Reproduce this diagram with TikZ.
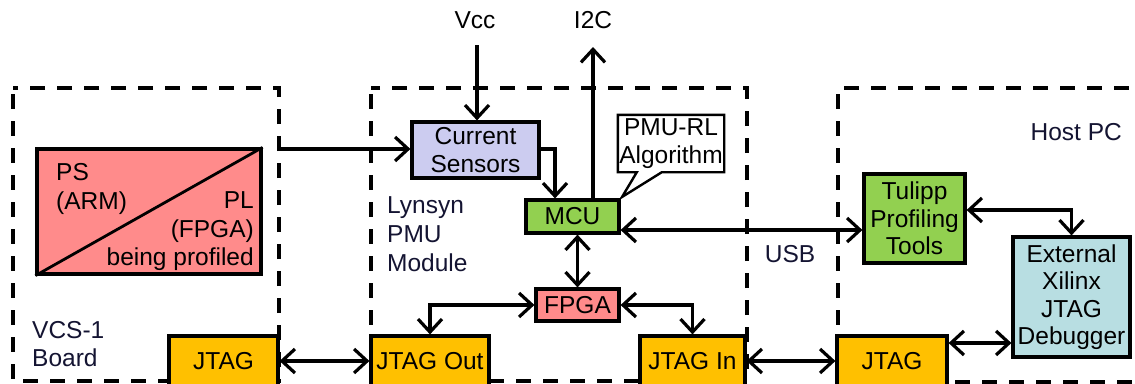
\documentclass[tikz,border=0pt]{standalone}
\usepackage{fontspec}
\setmainfont{Liberation Sans}
\usetikzlibrary{arrows.meta,calc}
\definecolor{salmon}{RGB}{255,139,139}
\definecolor{lav}{RGB}{204,204,240}
\definecolor{grn}{RGB}{146,208,80}
\definecolor{gold}{RGB}{255,192,0}
\definecolor{lblue}{RGB}{184,222,226}
\definecolor{lbl}{RGB}{20,20,50}
\tikzset{mytip/.tip={Straight Barb[length=13pt,width=24pt,line width=3.2pt]}}
\begin{document}
\begin{tikzpicture}[x=1pt,y=-1pt,
  every node/.style={font=\fontsize{24.5}{28.5}\selectfont},
  blk/.style={draw=black,line width=3.2pt,inner sep=0pt,align=center},
  group/.style={draw=black,line width=3.6pt,dash pattern=on 15pt off 12pt,dash phase=-6pt},
  conn/.style={line width=3.2pt},
  arr/.style={conn,-{mytip}},
  darr/.style={conn,{mytip}-{mytip}},
  lab/.style={text=lbl,inner sep=0pt,align=left}]
\useasboundingbox (0,0) rectangle (1135,383);
\clip (0,0) rectangle (1135,383);
% group boxes
\draw[group] (13,88) rectangle (279,381);
\draw[group] (371,88) rectangle (747,381);
\draw[group] (838,88) -- (1150,88) (838,88) -- (838,382) -- (1150,382);
% PS/PL block
\node[blk,fill=salmon,minimum width=224pt,minimum height=125pt] (pspl) at (149,211.5) {};
\draw[line width=2.8pt] (pspl.south west) -- (pspl.north east);
\node[lab,text=black,anchor=base west,align=left] (ps) at (56,180) {PS};
\node[lab,text=black,anchor=base west] (arm) at (56,209) {(ARM)};
\node[lab,text=black,anchor=base east] (pl) at (254,208) {PL};
\node[lab,text=black,anchor=base east] (fpgal) at (254,237) {(FPGA)};
\node[lab,text=black,anchor=base east] (bp) at (254,265) {being profiled};
% labels
\node[lab,anchor=base west] (vcs) at (32,338) {VCS-1};
\node[lab,anchor=base west] (board) at (32,366) {Board};
\node[lab,anchor=base west] (lyn) at (387,213) {Lynsyn};
\node[lab,anchor=base west] (pmu) at (387,242) {PMU};
\node[lab,anchor=base west] (mod) at (387,271) {Module};
\node[lab,anchor=base] (usbl) at (790,262) {USB};
\node[lab,anchor=base east] (host) at (1122,140) {Host PC};
\node[lab,text=black,anchor=base] (vcc) at (475,28) {Vcc};
\node[lab,text=black,anchor=base] (i2c) at (593,28) {I2C};
% blocks
\node[blk,fill=lav,minimum width=127pt,minimum height=56pt] (cs) at (475.5,150) {Current\\[-1pt]Sensors};
\node[blk,fill=grn,minimum width=93pt,minimum height=33pt] (mcu) at (572.5,216.5) {MCU};
\node[blk,fill=salmon,minimum width=83pt,minimum height=32pt] (fpga) at (577.5,305) {FPGA};
\node[blk,fill=gold,minimum width=109pt,minimum height=50pt] (jl) at (223.5,361) {JTAG};
\node[blk,fill=gold,minimum width=118pt,minimum height=50pt] (jo) at (430,361) {JTAG Out};
\node[blk,fill=gold,minimum width=105pt,minimum height=50pt] (ji) at (692.5,361) {JTAG In};
\node[blk,fill=gold,minimum width=110pt,minimum height=50pt] (jr) at (892,361) {JTAG};
\node[blk,fill=grn,minimum width=101pt,minimum height=89pt] (tul) at (914.5,218.5) {Tulipp\\[-1pt]Profiling\\[-1pt]Tools};
\node[blk,fill=lblue,minimum width=117pt,minimum height=120pt] (ext) at (1071.5,297) {External\\[-1pt]Xilinx\\[-1pt]JTAG\\[-1pt]Debugger};
% callout
\node[inner sep=0pt,minimum width=106pt,minimum height=57pt,align=center] (alg) at (671,143.5) {PMU-RL\\[-1pt]Algorithm};
\coordinate (algtip) at (622,197);
\draw[line width=2.4pt,fill=white] (alg.north west) -- (alg.north east) -- (alg.south east) -- ($(alg.south west)+(44,0)$) -- (algtip) -- ($(alg.south west)+(19,0)$) -- (alg.south west) -- cycle;
\node[inner sep=0pt,align=center] at (alg) {PMU-RL\\[-1pt]Algorithm};
% coordinates
\coordinate (vccs) at (477,45);
\coordinate (i2ce) at (593,47);
\coordinate (psout) at (279,149);
\coordinate (csx) at (555,0);
\coordinate (usb) at (0,230);
\coordinate (tx) at (0,210);
\coordinate (jx) at (0,343);
% connectors
\draw[arr] (vccs) -- (vccs |- cs.north);
\draw[arr] (i2ce |- mcu.north) -- (i2ce);
\draw[arr] (psout) -- (cs.west |- psout);
\draw[arr] (cs.east |- psout) -| (csx |- mcu.north);
\draw[darr] (mcu.south -| fpga.north) -- (fpga.north);
\draw[darr] (fpga.west) -| (jo.north);
\draw[darr] (fpga.east) -| (ji.north);
\draw[darr] (jl.east) -- (jo.west);
\draw[darr] (ji.east) -- (jr.west);
\draw[darr] (mcu.east |- usb) -- (tul.west |- usb);
\draw[darr] (tul.east |- tx) -| (ext.north);
\draw[darr] (jr.east |- jx) -- (ext.west |- jx);
\end{tikzpicture}
\end{document}
